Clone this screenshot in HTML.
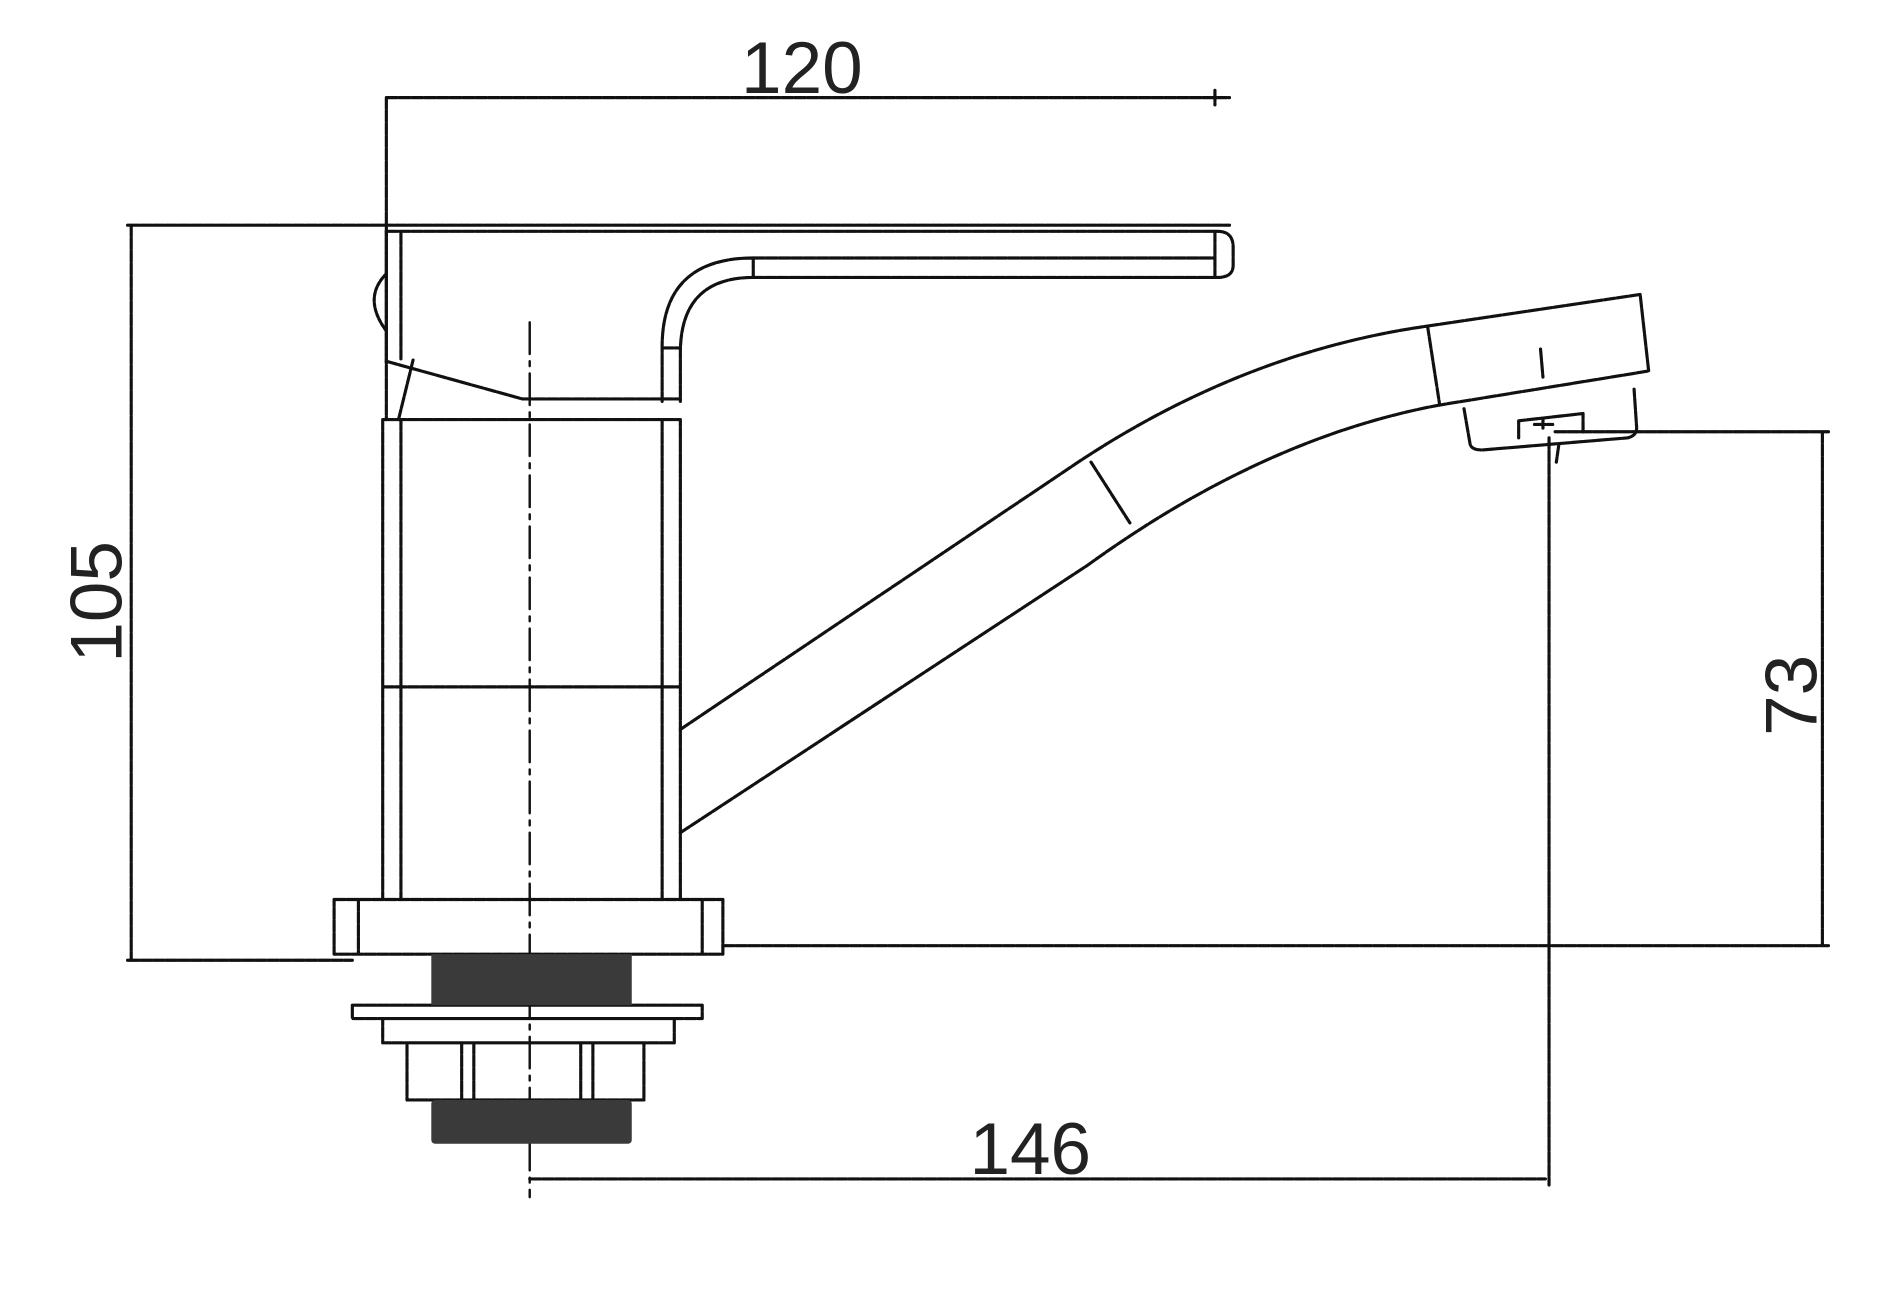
<!DOCTYPE html>
<html><head><meta charset="utf-8"><style>
html,body{margin:0;padding:0;background:#fff;}
svg{display:block;}
text{font-family:"Liberation Sans",sans-serif;fill:#222;}
</style></head><body>
<svg width="1888" height="1296" viewBox="0 0 1554 1066" xmlns="http://www.w3.org/2000/svg">
<rect width="1554" height="1066" fill="#fff"/>
<g fill="none" stroke="#111" stroke-width="2.6" stroke-linecap="round" stroke-linejoin="round" stroke-dasharray="9 1.5">
<path d="M318 80 H1012 M1000 74 V86 M318 80 V345"/>
<path d="M105 185 H1012 M108 185 V790 M105 790 H290"/>
<path d="M318 190 H1002 Q1015 190 1015 203 V218 Q1015 228 1002 228 H620"/>
<path d="M1000 190 V228"/>
<path d="M620 212 H1000"/>
<path d="M620 212 Q545 212 545 285 V330 M620 228 Q560 228 560 290 V330 M545 286 H560 M620 212 V228"/>
<path d="M318 190 V298 M330 192 V295"/>
<path d="M318 225 Q298 245 318 272" stroke-dasharray="3 1.5"/>
<path d="M318 297 L430 328 H560"/>
<path d="M340 296 L328 345"/>
<path d="M315 345 H560 V740 M315 345 V740 M330 345 V740 M545 345 V740 M315 565 H560"/>
<path d="M436 265 V985" stroke-dasharray="26 6 4 6" stroke-width="2"/>
<path d="M275 740 H595 V785 H275 Z M295 740 V785 M578 740 V785"/>
<path d="M290 827 H578 V838 H290 Z M315 838 H555 V858 H315 Z M335 858 H530 V905 H335 Z M380 858 V905 M390 858 V905 M478 858 V905 M488 858 V905"/>
<path d="M595 778 H1505 M1500 355 V778 M1280 355 H1505"/>
<path d="M436 970 H1272 M1275 360 V975"/>
<path d="M560 600 L880 385 Q1020 290 1175 268"/>
<path d="M560 685 L895 465 Q1040 360 1185 333"/>
<path d="M898 380 L930 430"/>
<path d="M1175 268 L1350 242 L1357 305 L1185 333 Z"/>
<path d="M1205 336 L1210 365 Q1211 370 1220 370 L1340 360 Q1348 358 1347 350 L1345 320"/>
<path d="M1250 360 V346 L1303 340 V355"/>
<path d="M1268 287 L1270 310 M1270 345 V352 M1263 349 H1278"/>
<path d="M1283 366 L1281 380"/>
</g>
<rect x="355" y="785" width="165" height="42" fill="#3a3a3a"/>
<rect x="355" y="905" width="165" height="36" rx="3" fill="#3a3a3a"/>
<text x="660" y="76" font-size="60" text-anchor="middle">120</text>
<text x="848" y="966" font-size="60" text-anchor="middle">146</text>
<text transform="translate(100 495) rotate(-90)" font-size="60" text-anchor="middle">105</text>
<text transform="translate(1495 572) rotate(-90)" font-size="60" text-anchor="middle">73</text>
</svg>
</body></html>
